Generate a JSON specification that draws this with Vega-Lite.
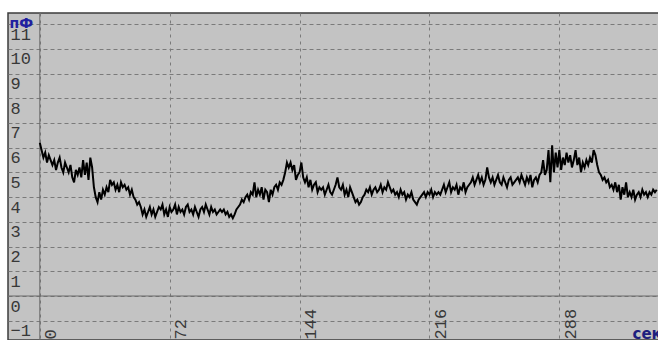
{
  "$schema": "https://vega.github.io/schema/vega-lite/v6.json",
  "width": 652,
  "height": 327,
  "autosize": {"type": "none"},
  "padding": {"left": 8, "top": 13, "right": 0, "bottom": 0},
  "background": "white",
  "config": {
    "view": {"fill": "#c3c3c3", "stroke": "#3c3c3c", "strokeWidth": 1.5},
    "axis": {"labelOverlap": false, "labelFlush": false}
  },
  "datasets": {
    "capacitance": [
      {"t":0,"c":6.2},{"t":1,"c":5.9},{"t":2,"c":5.6},{"t":3,"c":5.8},{"t":4,"c":5.4},{"t":5,"c":5.7},{"t":6,"c":5.5},{"t":7,"c":5.3},
      {"t":8,"c":5.5},{"t":9,"c":5.1},{"t":10,"c":5.4},{"t":11,"c":5.6},{"t":12,"c":5.2},{"t":13,"c":5.0},{"t":14,"c":5.4},{"t":15,"c":5.2},
      {"t":16,"c":5.0},{"t":17,"c":5.3},{"t":18,"c":4.8},{"t":19,"c":4.6},{"t":20,"c":5.1},{"t":21,"c":4.9},{"t":22,"c":5.2},
      {"t":23,"c":4.8},{"t":24,"c":5.5},{"t":25,"c":4.9},{"t":26,"c":5.4},{"t":27,"c":4.7},{"t":28,"c":5.6},{"t":29,"c":5.2},
      {"t":30,"c":4.4},{"t":31,"c":4.0},{"t":32,"c":3.8},{"t":33,"c":4.2},{"t":34,"c":3.9},{"t":35,"c":4.3},{"t":36,"c":4.1},{"t":37,"c":4.4},{"t":38,"c":4.2},
      {"t":39,"c":4.7},{"t":40,"c":4.5},{"t":41,"c":4.6},{"t":42,"c":4.3},{"t":43,"c":4.5},{"t":44,"c":4.2},{"t":45,"c":4.6},{"t":46,"c":4.4},{"t":47,"c":4.5},{"t":48,"c":4.3},{"t":49,"c":4.4},{"t":50,"c":4.1},{"t":51,"c":4.3},{"t":52,"c":4.0},
      {"t":53,"c":3.9},{"t":54,"c":3.7},{"t":55,"c":3.8},{"t":56,"c":3.6},
      {"t":57,"c":3.3},{"t":58,"c":3.5},{"t":59,"c":3.2},{"t":60,"c":3.4},{"t":61,"c":3.6},{"t":62,"c":3.3},{"t":63,"c":3.5},{"t":64,"c":3.2},{"t":65,"c":3.4},{"t":66,"c":3.6},{"t":67,"c":3.5},{"t":68,"c":3.7},{"t":69,"c":3.3},{"t":70,"c":3.5},
      {"t":71,"c":3.2},{"t":72,"c":3.6},{"t":73,"c":3.4},{"t":74,"c":3.5},{"t":75,"c":3.7},{"t":76,"c":3.3},{"t":77,"c":3.6},{"t":78,"c":3.4},{"t":79,"c":3.5},{"t":80,"c":3.3},
      {"t":81,"c":3.6},{"t":82,"c":3.7},{"t":83,"c":3.4},{"t":84,"c":3.5},{"t":85,"c":3.3},{"t":86,"c":3.6},{"t":87,"c":3.4},{"t":88,"c":3.2},{"t":89,"c":3.5},{"t":90,"c":3.6},
      {"t":91,"c":3.4},{"t":92,"c":3.7},{"t":93,"c":3.5},{"t":94,"c":3.3},{"t":95,"c":3.6},{"t":96,"c":3.4},{"t":97,"c":3.5},{"t":98,"c":3.3},{"t":99,"c":3.4},{"t":100,"c":3.5},
      {"t":101,"c":3.4},{"t":102,"c":3.5},{"t":103,"c":3.3},{"t":104,"c":3.4},{"t":105,"c":3.2},{"t":106,"c":3.3},{"t":107,"c":3.15},{"t":108,"c":3.3},
      {"t":109,"c":3.5},{"t":110,"c":3.6},{"t":111,"c":3.7},{"t":112,"c":3.9},{"t":113,"c":3.8},{"t":114,"c":4.0},{"t":115,"c":4.1},{"t":116,"c":3.9},
      {"t":117,"c":4.2},{"t":118,"c":4.1},{"t":119,"c":4.6},{"t":120,"c":4.0},{"t":121,"c":4.3},{"t":122,"c":4.1},{"t":123,"c":4.4},{"t":124,"c":3.9},{"t":125,"c":4.3},{"t":126,"c":4.2},{"t":127,"c":3.8},{"t":128,"c":4.3},{"t":129,"c":4.1},
      {"t":130,"c":4.4},{"t":131,"c":4.5},{"t":132,"c":4.3},{"t":133,"c":4.6},{"t":134,"c":4.5},{"t":135,"c":4.7},
      {"t":136,"c":5.0},{"t":137,"c":5.4},{"t":138,"c":5.2},{"t":139,"c":5.4},{"t":140,"c":5.1},{"t":141,"c":5.3},{"t":142,"c":4.7},{"t":143,"c":4.9},{"t":144,"c":5.0},{"t":145,"c":5.4},{"t":146,"c":4.8},
      {"t":147,"c":4.6},{"t":148,"c":4.8},{"t":149,"c":4.4},{"t":150,"c":4.7},{"t":151,"c":4.3},{"t":152,"c":4.5},{"t":153,"c":4.6},{"t":154,"c":4.2},{"t":155,"c":4.4},
      {"t":156,"c":4.3},{"t":157,"c":4.4},{"t":158,"c":4.1},{"t":159,"c":4.3},{"t":160,"c":4.5},{"t":161,"c":4.2},{"t":162,"c":4.1},{"t":163,"c":4.3},
      {"t":164,"c":4.5},{"t":165,"c":4.8},{"t":166,"c":4.4},
      {"t":167,"c":4.3},{"t":168,"c":4.5},{"t":169,"c":4.1},{"t":170,"c":4.3},{"t":171,"c":4.0},{"t":172,"c":4.4},{"t":173,"c":4.2},
      {"t":174,"c":4.0},{"t":175,"c":3.8},{"t":176,"c":3.9},{"t":177,"c":3.7},{"t":178,"c":3.8},{"t":179,"c":4.0},
      {"t":180,"c":4.1},{"t":181,"c":4.3},{"t":182,"c":4.2},{"t":183,"c":4.4},{"t":184,"c":4.1},{"t":185,"c":4.3},{"t":186,"c":4.4},{"t":187,"c":4.2},{"t":188,"c":4.3},{"t":189,"c":4.5},
      {"t":190,"c":4.2},{"t":191,"c":4.4},{"t":192,"c":4.3},{"t":193,"c":4.6},{"t":194,"c":4.4},{"t":195,"c":4.2},{"t":196,"c":4.3},
      {"t":197,"c":4.1},{"t":198,"c":4.2},{"t":199,"c":4.0},{"t":200,"c":4.3},{"t":201,"c":4.1},{"t":202,"c":4.2},{"t":203,"c":3.9},{"t":204,"c":4.1},{"t":205,"c":4.0},{"t":206,"c":4.2},
      {"t":207,"c":3.9},{"t":208,"c":3.8},{"t":209,"c":3.7},{"t":210,"c":3.9},{"t":211,"c":4.0},
      {"t":212,"c":4.1},{"t":213,"c":4.2},{"t":214,"c":4.0},{"t":215,"c":4.2},{"t":216,"c":4.1},{"t":217,"c":4.3},{"t":218,"c":4.0},{"t":219,"c":4.2},{"t":220,"c":4.1},{"t":221,"c":4.2},{"t":222,"c":4.1},
      {"t":223,"c":4.3},{"t":224,"c":4.5},{"t":225,"c":4.2},{"t":226,"c":4.4},{"t":227,"c":4.6},{"t":228,"c":4.2},{"t":229,"c":4.4},{"t":230,"c":4.3},{"t":231,"c":4.5},{"t":232,"c":4.1},
      {"t":233,"c":4.4},{"t":234,"c":4.3},{"t":235,"c":4.6},{"t":236,"c":4.2},{"t":237,"c":4.4},{"t":238,"c":4.5},
      {"t":239,"c":4.6},{"t":240,"c":4.8},{"t":241,"c":4.5},{"t":242,"c":4.7},{"t":243,"c":4.9},{"t":244,"c":4.6},{"t":245,"c":4.8},{"t":246,"c":4.5},
      {"t":247,"c":4.7},{"t":248,"c":5.2},{"t":249,"c":4.8},
      {"t":250,"c":4.6},{"t":251,"c":4.8},{"t":252,"c":4.5},{"t":253,"c":4.7},{"t":254,"c":4.9},{"t":255,"c":4.6},{"t":256,"c":4.5},{"t":257,"c":4.8},{"t":258,"c":4.6},{"t":259,"c":4.4},
      {"t":260,"c":4.7},{"t":261,"c":4.8},{"t":262,"c":4.5},{"t":263,"c":4.6},{"t":264,"c":4.7},
      {"t":265,"c":4.8},{"t":266,"c":4.6},{"t":267,"c":4.9},{"t":268,"c":4.7},{"t":269,"c":4.5},{"t":270,"c":4.8},{"t":271,"c":4.6},{"t":272,"c":4.9},{"t":273,"c":4.4},{"t":274,"c":4.7},
      {"t":275,"c":4.8},{"t":276,"c":4.6},{"t":277,"c":4.9},
      {"t":278,"c":5.0},{"t":279,"c":5.5},{"t":280,"c":4.9},{"t":281,"c":5.1},
      {"t":282,"c":5.9},{"t":283,"c":4.6},{"t":284,"c":6.1},{"t":285,"c":5.0},{"t":286,"c":5.8},
      {"t":287,"c":5.2},{"t":288,"c":5.9},{"t":289,"c":5.1},
      {"t":290,"c":5.6},{"t":291,"c":5.3},{"t":292,"c":5.8},{"t":293,"c":5.4},{"t":294,"c":5.7},{"t":295,"c":5.2},{"t":296,"c":5.5},{"t":297,"c":5.9},{"t":298,"c":5.3},{"t":299,"c":5.6},
      {"t":300,"c":5.0},{"t":301,"c":5.4},
      {"t":302,"c":5.2},{"t":303,"c":5.5},{"t":304,"c":5.3},{"t":305,"c":5.6},{"t":306,"c":5.4},{"t":307,"c":5.9},{"t":308,"c":5.7},{"t":309,"c":5.3},
      {"t":310,"c":5.0},{"t":311,"c":4.9},{"t":312,"c":4.7},{"t":313,"c":4.8},{"t":314,"c":4.6},{"t":315,"c":4.7},{"t":316,"c":4.4},{"t":317,"c":4.5},{"t":318,"c":4.3},
      {"t":319,"c":4.6},{"t":320,"c":4.2},{"t":321,"c":4.5},{"t":322,"c":3.9},{"t":323,"c":4.4},{"t":324,"c":4.1},{"t":325,"c":4.6},{"t":326,"c":4.0},
      {"t":327,"c":4.2},{"t":328,"c":4.0},{"t":329,"c":4.3},{"t":330,"c":3.9},{"t":331,"c":4.1},{"t":332,"c":4.2},{"t":333,"c":4.0},{"t":334,"c":4.3},{"t":335,"c":4.1},{"t":336,"c":4.2},
      {"t":337,"c":4.0},{"t":338,"c":4.2},{"t":339,"c":4.1},{"t":340,"c":4.3},{"t":341,"c":4.2},{"t":342,"c":4.3}
    ]
  },
  "layer": [
    {
      "data": {"values": [{"v": 0}]},
      "mark": {"type": "rule", "color": "#6a6a6a", "strokeWidth": 1},
      "encoding": {"y": {"field": "v", "type": "quantitative"}}
    },
    {
      "data": {"values": [{"v": 0}]},
      "mark": {"type": "rule", "color": "#6a6a6a", "strokeWidth": 1},
      "encoding": {"x": {"field": "v", "type": "quantitative"}}
    },
    {
      "data": {"name": "capacitance"},
      "mark": {"type": "line", "color": "#000000", "strokeWidth": 2},
      "encoding": {
        "x": {
          "field": "t",
          "type": "quantitative",
          "scale": {"domain": [-17.63, 343.8], "nice": false, "zero": false},
          "axis": {
            "orient": "bottom",
            "values": [0, 72, 144, 216, 288],
            "tickCount": 20,
            "format": "d",
            "title": "сек",
            "domain": false,
            "ticks": false,
            "grid": true,
            "gridColor": "#7a7a7a",
            "gridDash": [3, 4],
            "gridWidth": 1,
            "labelAngle": 270,
            "labelAlign": "left",
            "labelBaseline": "top",
            "labelPadding": -1,
            "labelOffset": 3,
            "labelFont": "Liberation Mono",
            "labelFontSize": 17,
            "labelColor": "#383838",
            "labelOverlap": false,
            "labelFlush": false,
            "titleX": 624,
            "titleY": -2,
            "titleAlign": "left",
            "titleBaseline": "alphabetic",
            "titleFont": "DejaVu Sans",
            "titleFontWeight": "bold",
            "titleFontSize": 15,
            "titleColor": "#1e1e7e"
          }
        },
        "y": {
          "field": "c",
          "type": "quantitative",
          "scale": {"domain": [-1.78, 11.45], "nice": false, "zero": false},
          "axis": {
            "orient": "left",
            "values": [-1, 0, 1, 2, 3, 4, 5, 6, 7, 8, 9, 10, 11],
            "tickCount": 20,
            "format": "d",
            "title": "пФ",
            "domain": false,
            "ticks": false,
            "grid": true,
            "gridColor": "#7a7a7a",
            "gridDash": [4, 3],
            "gridWidth": 1,
            "labelAlign": "left",
            "labelBaseline": "top",
            "labelPadding": -2,
            "labelOffset": 2,
            "labelFont": "Liberation Mono",
            "labelFontSize": 17,
            "labelColor": "#383838",
            "labelOverlap": false,
            "labelFlush": false,
            "titleAngle": 0,
            "titleX": 1,
            "titleY": 14,
            "titleAlign": "left",
            "titleBaseline": "alphabetic",
            "titleFont": "DejaVu Sans",
            "titleFontWeight": "bold",
            "titleFontSize": 14,
            "titleColor": "#2020a0"
          }
        }
      }
    }
  ]
}
